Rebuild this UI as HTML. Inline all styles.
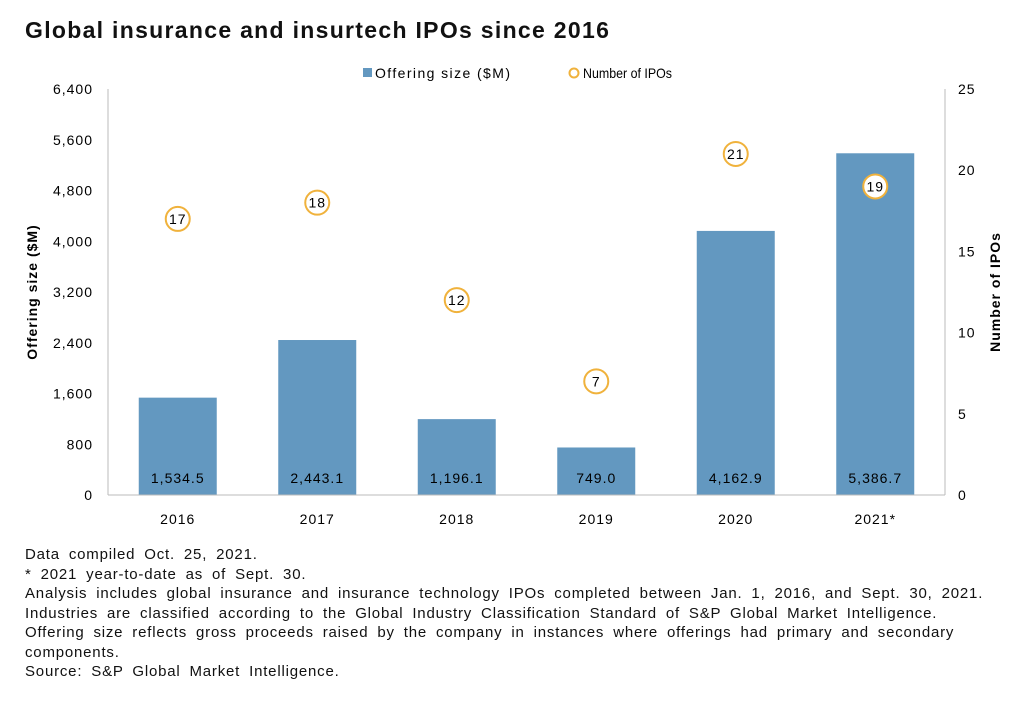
<!DOCTYPE html>
<html><head><meta charset="utf-8"><style>
body{margin:0;background:#fff;width:1020px;height:708px;overflow:hidden;font-family:"Liberation Sans",sans-serif;color:#111}
#title{position:absolute;left:25px;top:17px;font-size:23px;font-weight:bold;letter-spacing:1.3px}
#notes{position:absolute;left:25px;top:545px;font-size:15px;line-height:19.5px;letter-spacing:0.8px;word-spacing:4px}
svg{position:absolute;left:0;top:0}
svg text{letter-spacing:1px}
</style></head><body>
<div id="title">Global insurance and insurtech IPOs since 2016</div>
<svg id="chart" width="1020" height="708"></svg>
<div id="notes">Data compiled Oct. 25, 2021.<br>* 2021 year-to-date as of Sept. 30.<br>Analysis includes global insurance and insurance technology IPOs completed between Jan. 1, 2016, and Sept. 30, 2021.<br>Industries are classified according to the Global Industry Classification Standard of S&amp;P Global Market Intelligence.<br>Offering size reflects gross proceeds raised by the company in instances where offerings had primary and secondary<br>components.<br>Source: S&amp;P Global Market Intelligence.</div>
<script>
const categories=["2016","2017","2018","2019","2020","2021*"];
const offering=[1534.5,2443.1,1196.1,749.0,4162.9,5386.7];
const ipos=[17,18,12,7,21,19];
const leftTicks=[0,800,1600,2400,3200,4000,4800,5600,6400];
const rightTicks=[0,5,10,15,20,25];
const svg=document.getElementById('chart');
const NS='http://www.w3.org/2000/svg';
const x0=108,x1=945,yBase=495,yTop=89;
const yL=v=>yBase-v/6400*(yBase-yTop);
const yR=v=>yBase-v/25*(yBase-yTop);
const step=(x1-x0)/categories.length;
const xC=i=>x0+step*(i+0.5);
function mk(t,a,txt){const e=document.createElementNS(NS,t);for(const k in a)e.setAttribute(k,a[k]);if(txt!==undefined)e.textContent=txt;svg.appendChild(e);return e;}
let e;
e=mk('line',{x1:x0,y1:yTop,x2:x0,y2:yBase,stroke:'#bbb'});


e=mk('line',{x1:x1,y1:yTop,x2:x1,y2:yBase,stroke:'#bbb'});


leftTicks.forEach(v=>{e=mk('text',{x:93,y:yL(v)+5,'text-anchor':'end','font-size':14},v.toLocaleString('en-US'));

});
rightTicks.forEach(v=>{e=mk('text',{x:958,y:yR(v)+5,'font-size':14},String(v));

});
categories.forEach((c,i)=>{
const x=xC(i),y=yL(offering[i]);
e=mk('rect',{x:x-39,y:y,width:78,height:yBase-y,fill:'#6398c0'});


e=mk('text',{x:x,y:yBase-12,'text-anchor':'middle','font-size':14},offering[i].toLocaleString('en-US',{minimumFractionDigits:1,maximumFractionDigits:1}));


e=mk('text',{x:x,y:yBase+29,'text-anchor':'middle','font-size':14},c);


const cy=yR(ipos[i]);
e=mk('circle',{cx:x,cy:cy,r:12,fill:'#fff',stroke:'#f0b23c','stroke-width':2});


e=mk('text',{x:x,y:cy+5,'text-anchor':'middle','font-size':14},String(ipos[i]));


});
e=mk('line',{x1:x0,y1:yBase,x2:x1,y2:yBase,stroke:'#bbb'});


e=mk('text',{x:0,y:0,'font-size':14,'font-weight':'bold','text-anchor':'middle',transform:'translate(37,292) rotate(-90)'},'Offering size ($M)');


e=mk('text',{x:0,y:0,'font-size':14,'font-weight':'bold','text-anchor':'middle',transform:'translate(1000,292) rotate(-90)'},'Number of IPOs');


e=mk('rect',{x:363,y:68,width:9,height:9,fill:'#6398c0'});


e=mk('text',{x:375,y:78,'font-size':14,textLength:136,lengthAdjust:'spacing'},'Offering size ($M)');


e=mk('circle',{cx:574,cy:73,r:4.5,fill:'none',stroke:'#f0b23c','stroke-width':2});


e=mk('text',{x:583,y:78,'font-size':14,textLength:89,lengthAdjust:'spacingAndGlyphs',style:'letter-spacing:0'},'Number of IPOs');


</script>
</body></html>
